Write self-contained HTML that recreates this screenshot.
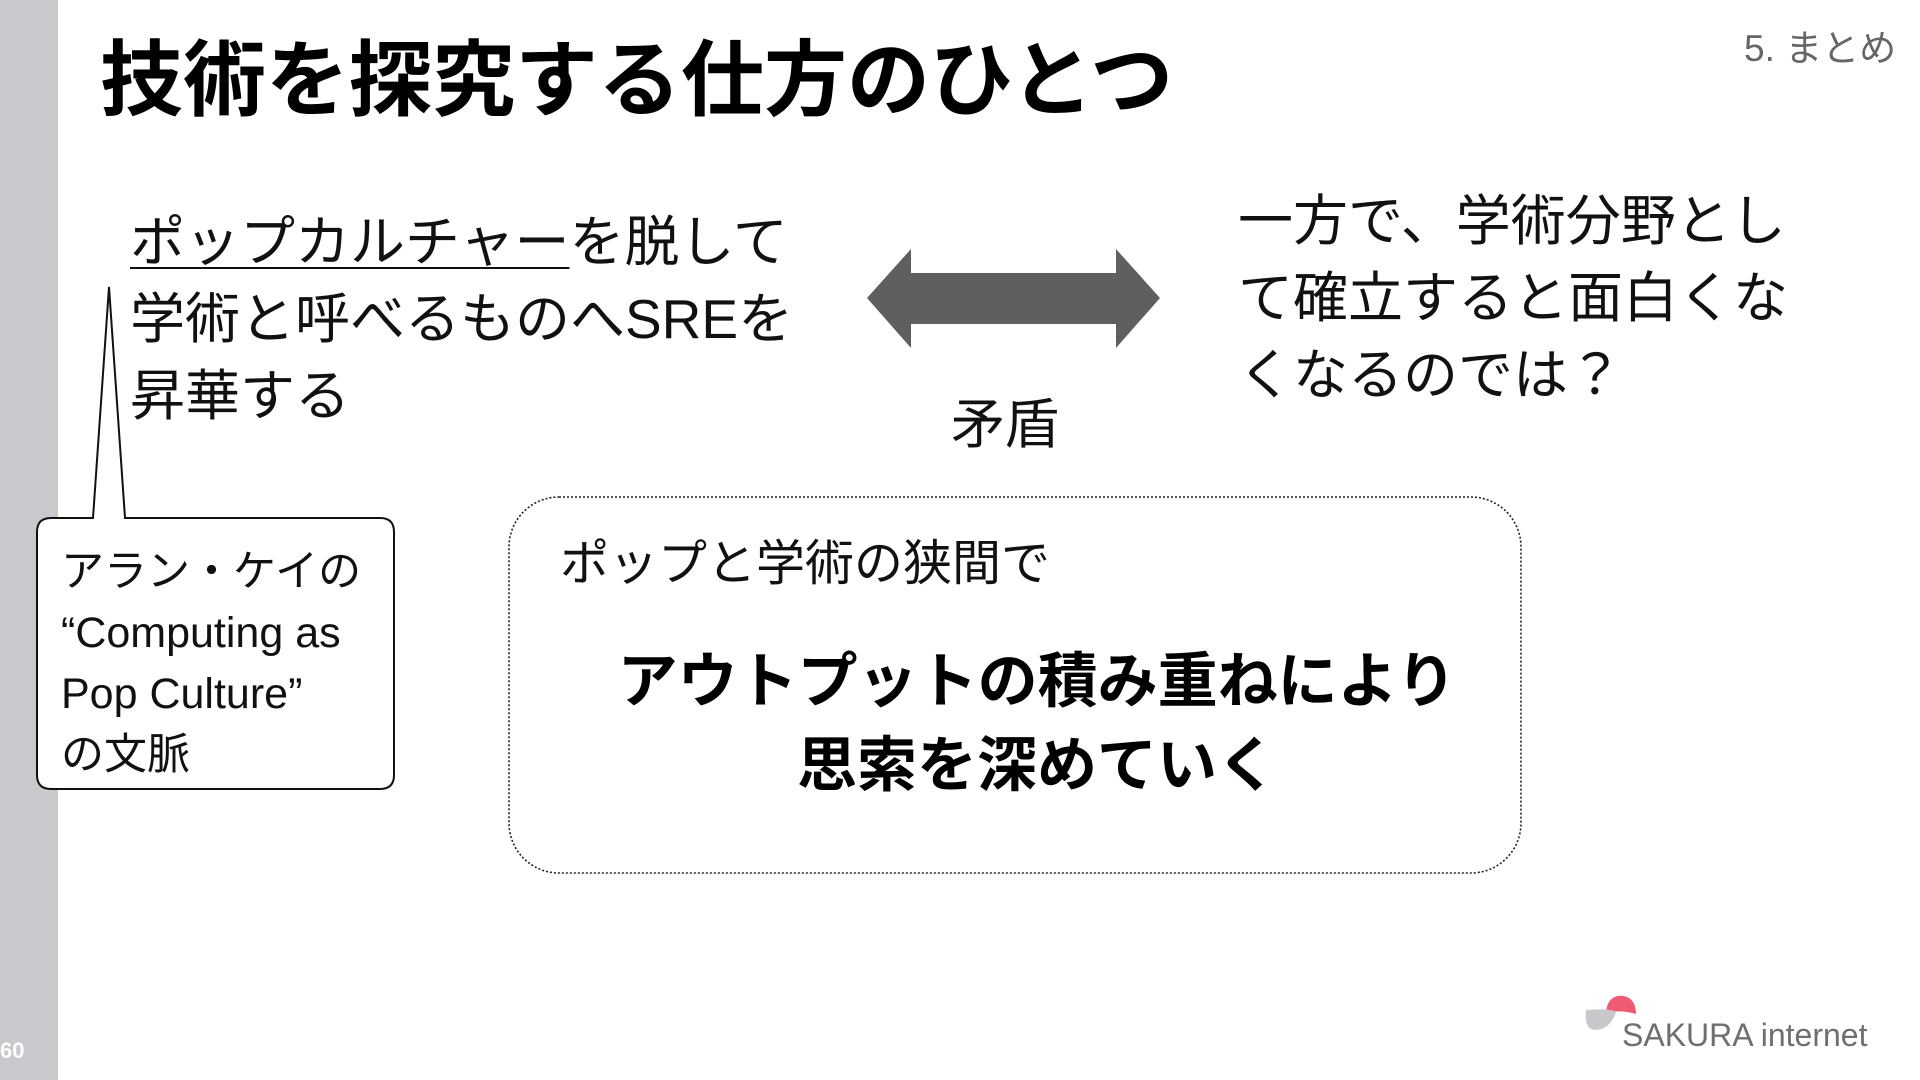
<!DOCTYPE html>
<html><head><meta charset="utf-8">
<style>
*{margin:0;padding:0;box-sizing:border-box}
body{width:1920px;height:1080px;position:relative;background:#fff;overflow:hidden;font-family:"Liberation Sans","Noto Sans CJK JP",sans-serif;color:#111}
.a{position:absolute;white-space:nowrap}
</style></head><body>
<div class="a" style="left:0;top:0;width:58px;height:1080px;background:#c9c8cd"></div>
<div class="a" style="left:0;top:1038px;color:#fff;font-size:22px;font-weight:bold">60</div>
<div class="a" style="left:100px;top:26px;font-size:83px;font-weight:bold;line-height:110px;color:#000">技術を探究する仕方のひとつ</div>
<div class="a" style="left:1744px;top:18px;font-size:37px;color:#666">5. まとめ</div>

<div class="a" style="left:130px;top:204px;font-size:55px;line-height:77px">
<span style="text-decoration:underline;text-decoration-thickness:2px;text-underline-offset:6px">ポップカルチャー</span>を脱して<br>学術と呼べるものへSREを<br>昇華する</div>

<svg class="a" style="left:0;top:0" width="1920" height="1080">
<polygon points="867,298 911,249 911,273 1116,273 1116,249 1160,298 1116,348 1116,324 911,324 911,348" fill="#5f5f5f"/>
<path d="M51,518 L93,518 L109,287 L125,518 L380,518 Q394,518 394,532 L394,775 Q394,789 380,789 L51,789 Q37,789 37,775 L37,532 Q37,518 51,518 Z" fill="#fff" stroke="#111" stroke-width="2"/>
<rect x="509" y="497" width="1012" height="376" rx="50" ry="50" fill="none" stroke="#222" stroke-width="1.6" stroke-dasharray="2,2"/>
</svg>

<div class="a" style="left:951px;top:380px;font-size:54px">矛盾</div>
<div class="a" style="left:1238px;top:183px;font-size:55px;line-height:77px">一方で、学術分野とし<br>て確立すると面白くな<br>くなるのでは？</div>

<div class="a" style="left:61px;top:542px;font-size:43px;line-height:61px">アラン・ケイの<br>“Computing as<br>Pop Culture”<br>の文脈</div>

<div class="a" style="left:560px;top:524px;font-size:49px">ポップと学術の狭間で</div>
<div class="a" style="left:527px;top:640px;width:1020px;text-align:center;font-size:60px;font-weight:bold;line-height:84px;color:#000">アウトプットの積み重ねにより<br>思索を深めていく</div>

<svg class="a" style="left:1580px;top:990px" width="80" height="50">
<path d="M26,22 Q28,4 44,6 Q56,9 56,24 Q44,20 26,22 Z" fill="#ef5b73"/>
<path d="M6,20 Q30,18 36,22 Q30,40 14,40 Q4,38 6,20 Z" fill="#c8c8cc"/>
</svg>
<div class="a" style="left:1622px;top:1017px;font-size:32px;color:#6e6e73">SAKURA internet</div>
</body></html>
